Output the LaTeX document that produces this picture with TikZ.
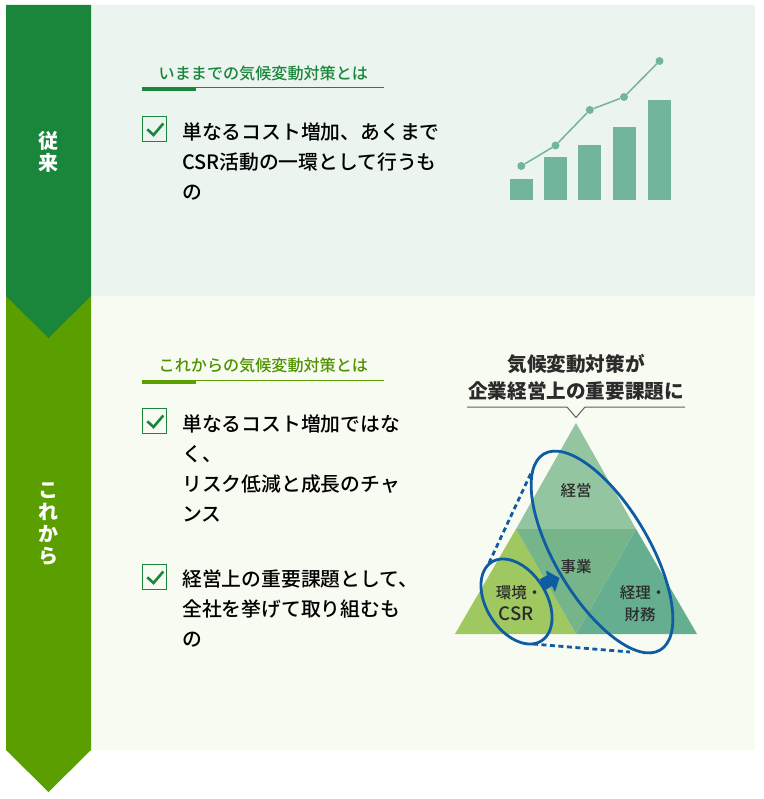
\documentclass[tikz,border=0pt]{standalone}
\usepackage{fontspec}
\setmainfont{Noto Sans CJK JP}
\newfontfamily\jpmed{Noto Sans CJK JP Medium}

\definecolor{oldgreen}{HTML}{1A863C}
\definecolor{newgreen}{HTML}{5A9E00}
\definecolor{newhead}{HTML}{4F9200}
\definecolor{oldpanel}{HTML}{EBF4EE}
\definecolor{newpanel}{HTML}{F8FBF1}
\definecolor{chartgreen}{HTML}{72B59B}
\definecolor{ovalblue}{HTML}{0F5CA3}
\definecolor{darktext}{HTML}{2B2B2B}
\definecolor{triotop}{HTML}{93C6A0}
\definecolor{trioleft}{HTML}{A0C860}
\definecolor{trioright}{HTML}{66AE90}
\definecolor{triomid}{HTML}{75B589}

\tikzset{
    sidelabel/.style={text=white,font=\bfseries\fontsize{20}{22.3}\selectfont,align=center,inner sep=0pt},
    headtext/.style={font=\jpmed\fontsize{16.1}{20}\selectfont,anchor=west,inner sep=0pt},
    bodytext/.style={font=\jpmed\fontsize{19.8}{29.7}\selectfont,text=black,anchor=west,align=left,inner sep=0pt},
    triotext/.style={font=\jpmed\fontsize{15.5}{22}\selectfont,text=darktext,align=center,inner sep=0pt},
    bigtext/.style={font=\bfseries\fontsize{19.6}{27}\selectfont,text=darktext,align=center,inner sep=0pt},
    chartbar/.style={fill=chartgreen},
    chartdot/.style={circle,fill=chartgreen,minimum size=8pt,inner sep=0pt},
    checkbox/.style={draw=oldgreen,line width=1pt},
    checkmark/.style={draw=oldgreen,line width=2.6pt},
    oval/.style={draw=ovalblue,line width=2.8pt},
    ovaldash/.style={draw=ovalblue,line width=2.8pt,dash pattern=on 5pt off 3.5pt}
}

\begin{document}
\begin{tikzpicture}[x=1pt,y=-1pt]
        \useasboundingbox (0,0) rectangle (763,799);
        \fill[white] (0,0) rectangle (763,799);

        % paneles
        \fill[oldpanel] (91,5) rectangle (755,296);
        \fill[newpanel] (91,296) rectangle (755,750);

        % bandas
        \fill[newgreen] (6,296) -- (91,296) -- (91,750) -- (48.5,792) -- (6,750) -- cycle;
        \fill[oldgreen] (6,5) -- (91,5) -- (91,296) -- (48.5,338) -- (6,296) -- cycle;
        \node[sidelabel] (labelold) at (48.5,152) {従\\来};
        \node[sidelabel] (labelnew) at (48.5,524) {こ\\れ\\か\\ら};

        % arriba
        \node[headtext,text=oldgreen] (headold) at (158.5,73) {いままでの気候変動対策とは};
        \fill[oldgreen] (142,87.5) rectangle (384,88.5);
        \fill[oldgreen] (142,87) rectangle (196,91);
        \draw[checkbox] (142.5,116.5) rectangle (166.5,141.5);
        \draw[checkmark] (147.3,129.3) -- (153.5,135) -- (163.3,123.5);
        \node[bodytext] (itemold) at (182,161.5) {単なるコスト増加、あくまで\\CSR活動の一環として行うも\\の};

        % grafico
        \fill[chartbar] (510,179) rectangle (533,200);
        \fill[chartbar] (544,157) rectangle (567,200);
        \fill[chartbar] (578,145) rectangle (601,200);
        \fill[chartbar] (612.5,127) rectangle (635.5,200);
        \fill[chartbar] (648,100) rectangle (671,200);
        \node[chartdot] (p1) at (521.3,166) {};
        \node[chartdot] (p2) at (555.5,145.5) {};
        \node[chartdot] (p3) at (589.8,110) {};
        \node[chartdot] (p4) at (624,97) {};
        \node[chartdot] (p5) at (659.5,61) {};
        \draw[chartgreen,line width=1.5pt] (p1) -- (p2) -- (p3) -- (p4) -- (p5);

        % abajo
        \node[headtext,text=newhead] (headnew) at (158.5,365) {これからの気候変動対策とは};
        \fill[newgreen] (142,380) rectangle (384,381);
        \fill[newgreen] (142,379.5) rectangle (196,383.5);
        \draw[checkbox] (142.5,408.5) rectangle (166.5,433.5);
        \draw[checkmark] (147.3,421.3) -- (153.5,427) -- (163.3,415.5);
        \node[bodytext] (itemone) at (182,468.5) {単なるコスト増加ではな\\く、\\リスク低減と成長のチャ\\ンス};
        \draw[checkbox] (142.5,564.5) rectangle (166.5,589.5);
        \draw[checkmark] (147.3,577.3) -- (153.5,583) -- (163.3,571.5);
        \node[bodytext] (itemtwo) at (182,608.5) {経営上の重要課題として、\\全社を挙げて取り組むも\\の};

        % titulo del triangulo
        \node[bigtext] (bigtitle) at (576,377.5) {気候変動対策が\\企業経営上の重要課題に};
        \draw[darktext!75,line width=1pt] (467,407) -- (567,407) -- (576,417.5) -- (585,407) -- (685,407);

        % triangulo
        \fill[triotop] (576,423) -- (636,529) -- (516,529) -- cycle;
        \fill[trioleft] (516,529) -- (576,634) -- (455,634) -- cycle;
        \fill[trioright] (636,529) -- (697,634) -- (576,634) -- cycle;
        \fill[triomid] (516,529) -- (636,529) -- (576,634) -- cycle;

        \node[triotext] (trioa) at (576,491) {経営};
        \node[triotext] (triob) at (576,567) {事業};
        \node[triotext] (trioc) at (516,603) {環境・\kern-6pt\\{\fontsize{18.5}{22}\selectfont CSR}};
        \node[triotext] (triod) at (640,604) {経理・\kern-6pt\\財務};

        % flecha
        \fill[ovalblue] (540,579) -- (547,575.5) -- (546,570.5) -- (559.5,578) -- (555,592) -- (552,586) -- (544,591) -- cycle;

        % ovalos
        \coordinate (dashaa) at (489,563);
        \coordinate (dashab) at (531,473);
        \coordinate (dashba) at (533,644);
        \coordinate (dashbb) at (630,652);
        \draw[ovaldash] (dashaa) -- (dashab);
        \draw[ovaldash] (dashba) -- (dashbb);
        \draw[oval,rotate around={-59.3:(602,552)}] (602,552) ellipse [x radius=114,y radius=47];
        \draw[oval,rotate around={-57.7:(516.5,601.5)}] (516.5,601.5) ellipse [x radius=46.6,y radius=30];
\end{tikzpicture}
\end{document}
